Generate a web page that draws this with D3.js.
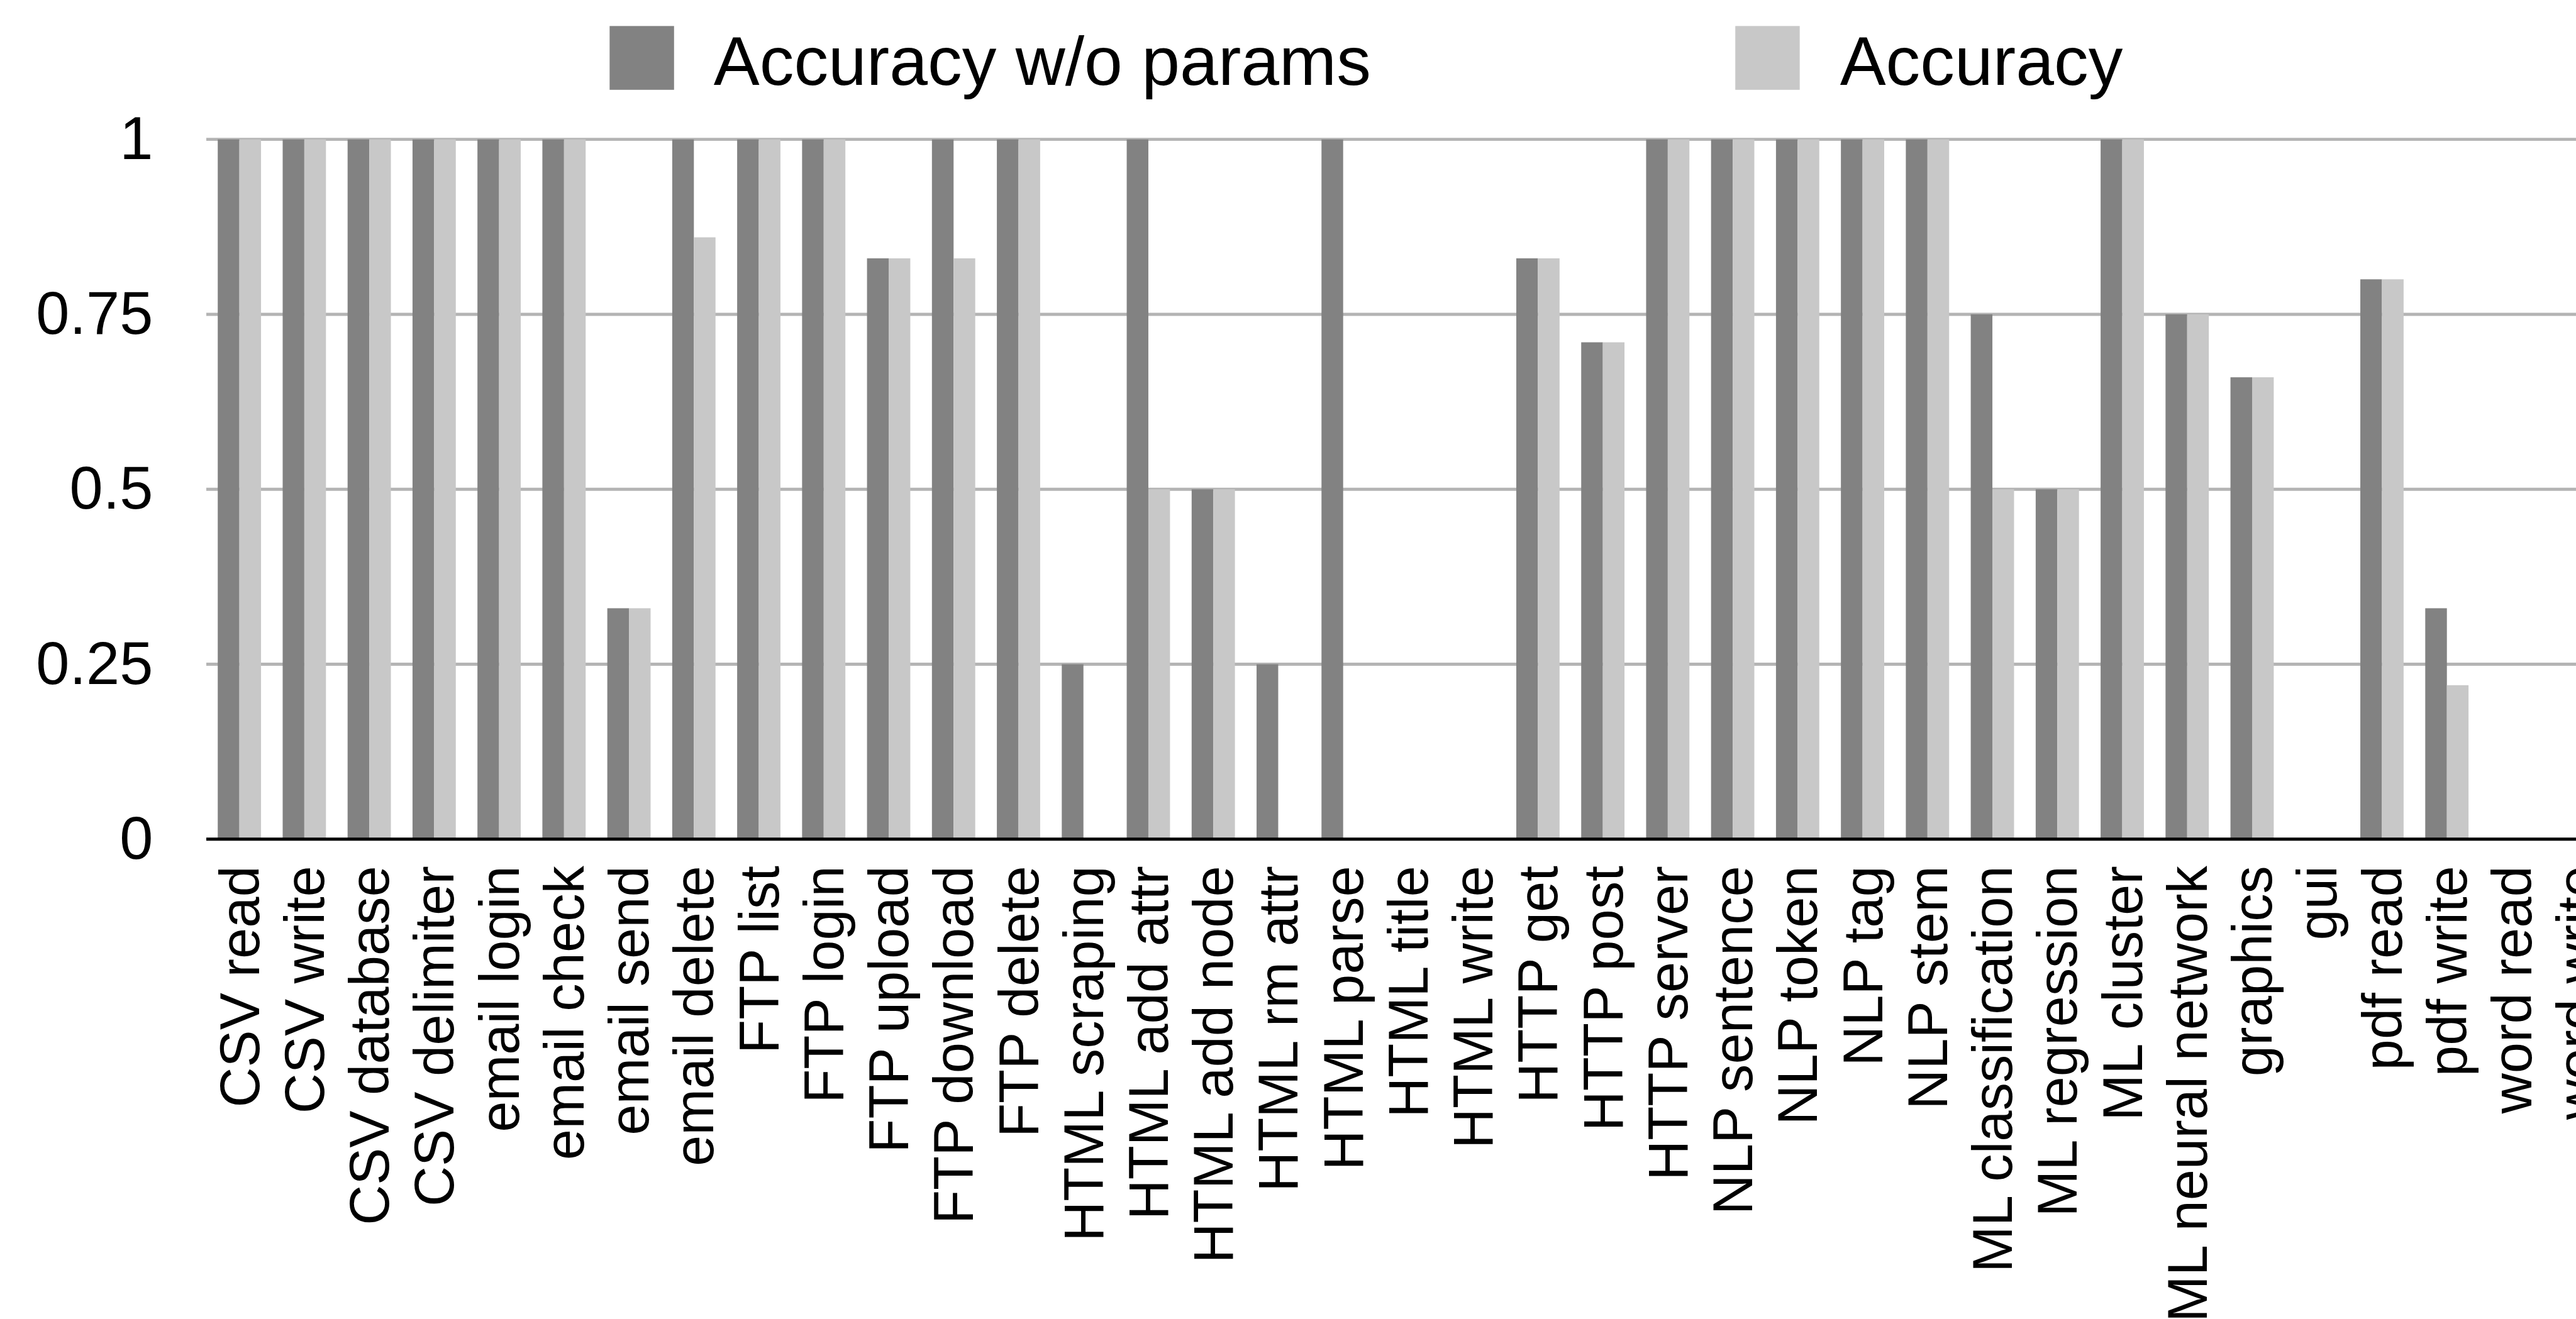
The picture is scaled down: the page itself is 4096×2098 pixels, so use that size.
<!DOCTYPE html>
<html><head><meta charset="utf-8">
<script src="https://cdn.jsdelivr.net/npm/d3@7"></script>
<style>html,body{margin:0;padding:0;background:#fff;overflow:hidden}svg{display:block}</style>
</head><body><svg id="chart"></svg>
<script>
const categories = ["CSV read","CSV write","CSV database","CSV delimiter","email login","email check","email send","email delete","FTP list","FTP login","FTP upload","FTP download","FTP delete","HTML scraping","HTML add attr","HTML add node","HTML rm attr","HTML parse","HTML title","HTML write","HTTP get","HTTP post","HTTP server","NLP sentence","NLP token","NLP tag","NLP stem","ML classification","ML regression","ML cluster","ML neural network","graphics","gui","pdf read","pdf write","word read","word write"];
const seriesNames = ["Accuracy w/o params","Accuracy"];
const accuracyWithoutParams = [1,1,1,1,1,1,0.33,1,1,1,0.83,1,1,0.25,1,0.5,0.25,1,0,0,0.83,0.71,1,1,1,1,1,0.75,0.5,1,0.75,0.66,0,0.8,0.33,0,0];
const accuracy = [1,1,1,1,1,1,0.33,0.86,1,1,0.83,0.83,1,0,0.5,0.5,0,0,0,0,0.83,0.71,1,1,1,1,1,0.5,0.5,1,0.75,0.66,0,0.8,0.22,0,0];
const yTicks = [0,0.25,0.5,0.75,1];
const yTickLabels = ["0","0.25","0.5","0.75","1"];
const colors = ["#828282","#c8c8c8"];

(function(){
const W=4096,H=2098,S=W/4158;
const FONT='"Liberation Sans", Arial, Helvetica, sans-serif';
const svg=d3.select("#chart").attr("width",W).attr("height",H).style("font-family",FONT);
svg.append("rect").attr("width",W).attr("height",H).attr("fill","#fff");

const plotLeft=333*S, plotTop=225*S, plotBottom=1355*S, step=104.8*S;
const x=d3.scaleBand().domain(categories).range([plotLeft+1*S,plotLeft+1*S+step*categories.length]).paddingInner(0).paddingOuter(0);
const xs=d3.scaleBand().domain(seriesNames).range([0,x.bandwidth()]).paddingInner(0).paddingOuter(0.5);
const y=d3.scaleLinear().domain([0,1]).range([plotBottom,plotTop]);
const color=d3.scaleOrdinal().domain(seriesNames).range(colors);

// gridlines
svg.append("g").selectAll("line").data(yTicks.filter(d=>d>0)).join("line")
  .attr("x1",plotLeft).attr("x2",W).attr("y1",d=>y(d)).attr("y2",d=>y(d))
  .attr("stroke","#b4b4b4").attr("stroke-width",5*S);

// y axis labels
const yAxis=d3.axisLeft(y).tickValues(yTicks).tickFormat((d,i)=>yTickLabels[i]).tickSize(0).tickPadding(86*S);
const ya=svg.append("g").attr("transform",`translate(${plotLeft},0)`).call(yAxis);
ya.select(".domain").remove();
ya.selectAll("text").attr("font-size",97*S).attr("font-family",FONT).attr("fill","#000");

// bars
const rows=categories.map((c,i)=>({cat:c,vals:[{s:seriesNames[0],v:accuracyWithoutParams[i]},{s:seriesNames[1],v:accuracy[i]}]}));
const g=svg.append("g").selectAll("g").data(rows).join("g").attr("transform",d=>`translate(${x(d.cat)},0)`);
g.selectAll("rect").data(d=>d.vals).join("rect")
  .attr("x",d=>xs(d.s)).attr("width",xs.bandwidth())
  .attr("y",d=>y(d.v)).attr("height",d=>y(0)-y(d.v))
  .attr("fill",d=>color(d.s));

// x axis
const xAxis=d3.axisBottom(x).tickSize(0);
const xa=svg.append("g").attr("transform",`translate(0,${plotBottom})`).call(xAxis);
xa.select(".domain").remove();
xa.selectAll("text").attr("font-size",90*S).attr("font-family",FONT).attr("fill","#000")
  .attr("transform","rotate(-90)").attr("text-anchor","end")
  .attr("x",-43*S).attr("y",0).attr("dy","0.35em");
svg.append("line").attr("x1",plotLeft).attr("x2",W).attr("y1",plotBottom).attr("y2",plotBottom)
  .attr("stroke","#000").attr("stroke-width",5*S);

// legend
const legendX=[984,2801], legendTextX=[1152,2970];
const lg=svg.append("g").selectAll("g").data(seriesNames).join("g");
lg.append("rect").attr("x",(d,i)=>legendX[i]*S).attr("y",42*S).attr("width",104*S).attr("height",103*S).attr("fill",d=>color(d));
lg.append("text").attr("x",(d,i)=>legendTextX[i]*S).attr("y",137*S).attr("font-size",111*S).attr("fill","#000").text(d=>d);
})();
</script></body></html>
